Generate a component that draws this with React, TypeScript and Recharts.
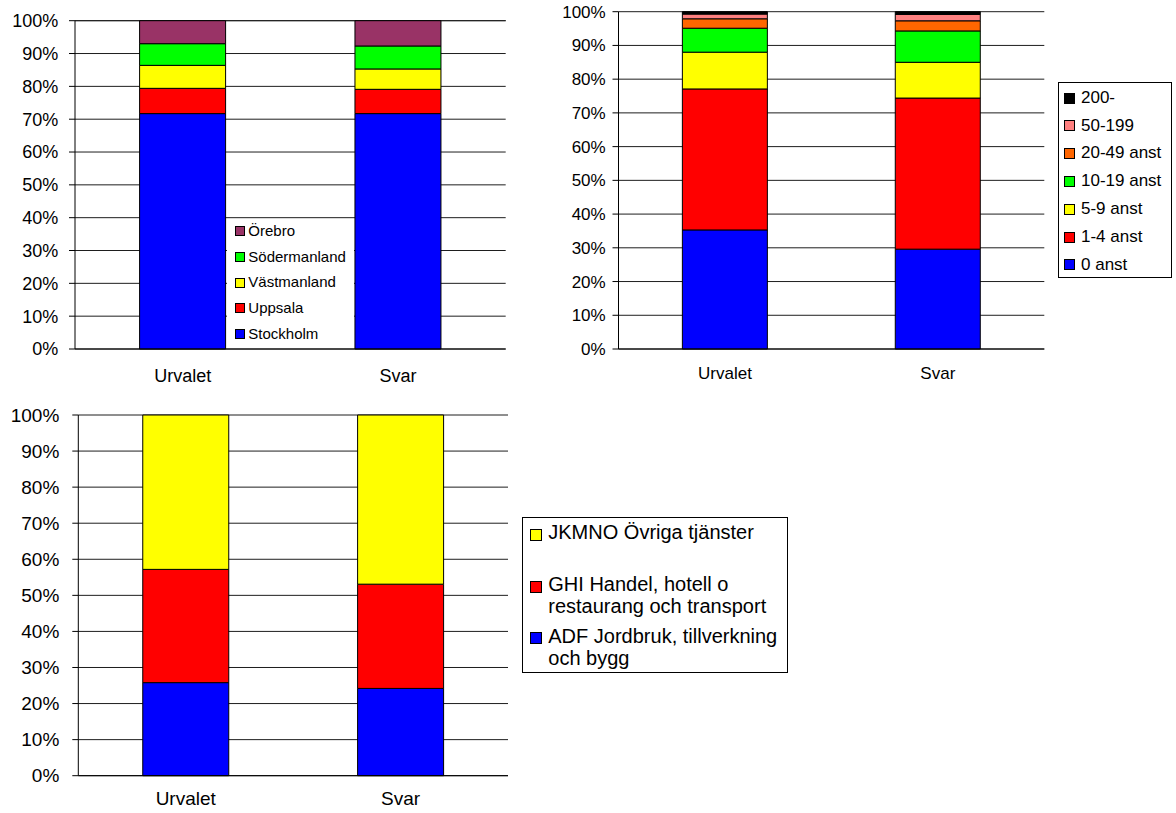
import React from "react";
import { BarChart, Bar, XAxis, YAxis, CartesianGrid, Legend } from "recharts";

const FONT = "'Liberation Sans', Arial, Helvetica, sans-serif";

const categories = ["Urvalet", "Svar"];
const percentTicks = [0, 10, 20, 30, 40, 50, 60, 70, 80, 90, 100];

// län (bottom to top of the stack)
const lanNames = ["Stockholm", "Uppsala", "Västmanland", "Södermanland", "Örebro"];
const lanColors = ["#0000FF", "#FF0000", "#FFFF00", "#00FF00", "#993366"];
const lanUrvalet = [71.7, 7.7, 7.0, 6.6, 7.0];
const lanSvar = [71.7, 7.4, 6.2, 7.0, 7.7];

// storleksklass
const sizeNames = ["0 anst", "1-4 anst", "5-9 anst", "10-19 anst", "20-49 anst", "50-199", "200-"];
const sizeColors = ["#0000FF", "#FF0000", "#FFFF00", "#00FF00", "#FF6600", "#FF8080", "#000000"];
const sizeUrvalet = [35.3, 41.8, 10.9, 7.1, 2.8, 1.4, 0.7];
const sizeSvar = [29.6, 44.8, 10.6, 9.3, 3.0, 1.9, 0.8];

// bransch
const branschNames = [
  "ADF Jordbruk, tillverkning\noch bygg",
  "GHI Handel, hotell o\nrestaurang och transport",
  "JKMNO Övriga tjänster",
];
const branschColors = ["#0000FF", "#FF0000", "#FFFF00"];
const branschUrvalet = [25.8, 31.4, 42.8];
const branschSvar = [24.2, 28.9, 46.9];

function buildRows(names: string[], urvalet: number[], svar: number[]) {
  return categories.map((cat, ci) => {
    const row: Record<string, string | number> = { name: cat };
    const vals = ci === 0 ? urvalet : svar;
    names.forEach((_, i) => {
      row["s" + i] = vals[i];
    });
    return row;
  });
}

interface LegendLayout {
  left: number;
  top: number;
  width: number;
  height: number;
  border: boolean;
  padTop: number;
  slot: number;
  lineHeight: number;
  fontSize: number;
  swatchX: number;
  swatchTop: number;
  swatchSize: number;
  textX: number;
}

function LegendBox({ names, colors, lay }: { names: string[]; colors: string[]; lay: LegendLayout }) {
  // Excel lists the top series first
  const order = names.map((_, i) => i).reverse();
  return (
    <div
      style={{
        position: "relative",
        boxSizing: "border-box",
        width: lay.width,
        height: lay.height,
        background: "#fff",
        border: lay.border ? "1px solid #000" : "none",
        fontFamily: FONT,
        fontSize: lay.fontSize,
        color: "#000",
      }}
    >
      {order.map((idx, k) => (
        <div key={idx} style={{ position: "absolute", left: 0, right: 0, top: lay.padTop + k * lay.slot, height: lay.slot }}>
          <div
            style={{
              position: "absolute",
              left: lay.swatchX,
              top: lay.swatchTop,
              width: lay.swatchSize - 2,
              height: lay.swatchSize - 2,
              background: colors[idx],
              border: "1px solid #000",
            }}
          />
          <div style={{ position: "absolute", left: lay.textX, top: 0, whiteSpace: "pre", lineHeight: lay.lineHeight + "px" }}>
            {names[idx]}
          </div>
        </div>
      ))}
    </div>
  );
}

interface PanelProps {
  left: number;
  top: number;
  width: number;
  height: number;
  margin: { top: number; right: number; bottom: number; left: number };
  yWidth: number;
  yTickMargin: number;
  xHeight: number;
  xTickMargin: number;
  fontSize: number;
  names: string[];
  colors: string[];
  urvalet: number[];
  svar: number[];
  legend: LegendLayout;
}

function StackedPanel(p: PanelProps) {
  const rows = buildRows(p.names, p.urvalet, p.svar);
  const edgeTicks = categories.map((_, i) => i).concat(categories.length);
  const tickStyle = { fill: "#000", fontSize: p.fontSize, fontFamily: FONT };
  return (
    <div style={{ position: "absolute", left: p.left, top: p.top }}>
      <BarChart width={p.width} height={p.height} data={rows} margin={p.margin} barCategoryGap="30%">
        <CartesianGrid vertical={false} stroke="#1e1e1e" />
        <XAxis
          xAxisId="edge"
          type="number"
          domain={[0, categories.length]}
          ticks={edgeTicks}
          allowDataOverflow
          tick={false}
          axisLine={false}
          tickLine={{ stroke: "#000" }}
          tickSize={6}
          height={0}
        />
        <XAxis
          dataKey="name"
          tick={tickStyle}
          tickLine={false}
          tickSize={0}
          tickMargin={p.xTickMargin}
          axisLine={{ stroke: "#000" }}
          height={p.xHeight}
        />
        <YAxis
          domain={[0, 100]}
          ticks={percentTicks}
          interval={0}
          tickFormatter={(v: number) => v + "%"}
          tick={tickStyle}
          tickSize={6}
          tickMargin={p.yTickMargin}
          tickLine={{ stroke: "#000" }}
          axisLine={{ stroke: "#000" }}
          width={p.yWidth}
        />
        <YAxis
          yAxisId="border"
          orientation="right"
          domain={[0, 100]}
          width={0}
          tick={false}
          tickLine={false}
          axisLine={{ stroke: "#8c8c8c" }}
        />
        {p.names.map((n, i) => (
          <Bar
            key={n}
            dataKey={"s" + i}
            name={n}
            stackId="a"
            fill={p.colors[i]}
            stroke="#000"
            strokeWidth={1}
            isAnimationActive={false}
          />
        ))}
        <Legend
          layout="vertical"
          align="center"
          verticalAlign="middle"
          wrapperStyle={{
            left: p.legend.left,
            top: p.legend.top,
            width: p.legend.width,
            height: p.legend.height,
            margin: 0,
            padding: 0,
          }}
          content={() => <LegendBox names={p.names} colors={p.colors} lay={p.legend} />}
        />
      </BarChart>
    </div>
  );
}

export default function App() {
  return (
    <div style={{ position: "absolute", left: 0, top: 0, width: 1176, height: 813, background: "#fff", fontFamily: FONT }}>
      <StackedPanel
        left={0}
        top={0}
        width={520}
        height={395}
        margin={{ top: 20.7, right: 14.3, bottom: 6, left: 0 }}
        yWidth={75}
        yTickMargin={10.7}
        xHeight={40}
        xTickMargin={20.6}
        fontSize={18}
        names={lanNames}
        colors={lanColors}
        urvalet={lanUrvalet}
        svar={lanSvar}
        legend={{
          left: 226.5,
          top: 218.5,
          width: 127,
          height: 129.5,
          border: false,
          padTop: -0.7,
          slot: 25.75,
          lineHeight: 25.75,
          fontSize: 15,
          swatchX: 8.5,
          swatchTop: 8.4,
          swatchSize: 10,
          textX: 21.8,
        }}
      />
      <StackedPanel
        left={540}
        top={0}
        width={636}
        height={395}
        margin={{ top: 11.7, right: 131.7, bottom: 6, left: 0 }}
        yWidth={78.5}
        yTickMargin={6.8}
        xHeight={40}
        xTickMargin={18}
        fontSize={17}
        names={sizeNames}
        colors={sizeColors}
        urvalet={sizeUrvalet}
        svar={sizeSvar}
        legend={{
          left: 518,
          top: 82.3,
          width: 114,
          height: 195.4,
          border: true,
          padTop: 0.5,
          slot: 27.8,
          lineHeight: 27.8,
          fontSize: 17,
          swatchX: 5,
          swatchTop: 8.9,
          swatchSize: 11,
          textX: 22,
        }}
      />
      <StackedPanel
        left={0}
        top={400}
        width={800}
        height={413}
        margin={{ top: 15, right: 292, bottom: 5.3, left: 0 }}
        yWidth={78.3}
        yTickMargin={13}
        xHeight={32}
        xTickMargin={15.6}
        fontSize={19}
        names={branschNames}
        colors={branschColors}
        urvalet={branschUrvalet}
        svar={branschSvar}
        legend={{
          left: 521.7,
          top: 117.3,
          width: 266,
          height: 155.4,
          border: true,
          padTop: 4.15,
          slot: 51.7,
          lineHeight: 21.7,
          fontSize: 20,
          swatchX: 7.3,
          swatchTop: 6.5,
          swatchSize: 12,
          textX: 25.6,
        }}
      />
    </div>
  );
}
